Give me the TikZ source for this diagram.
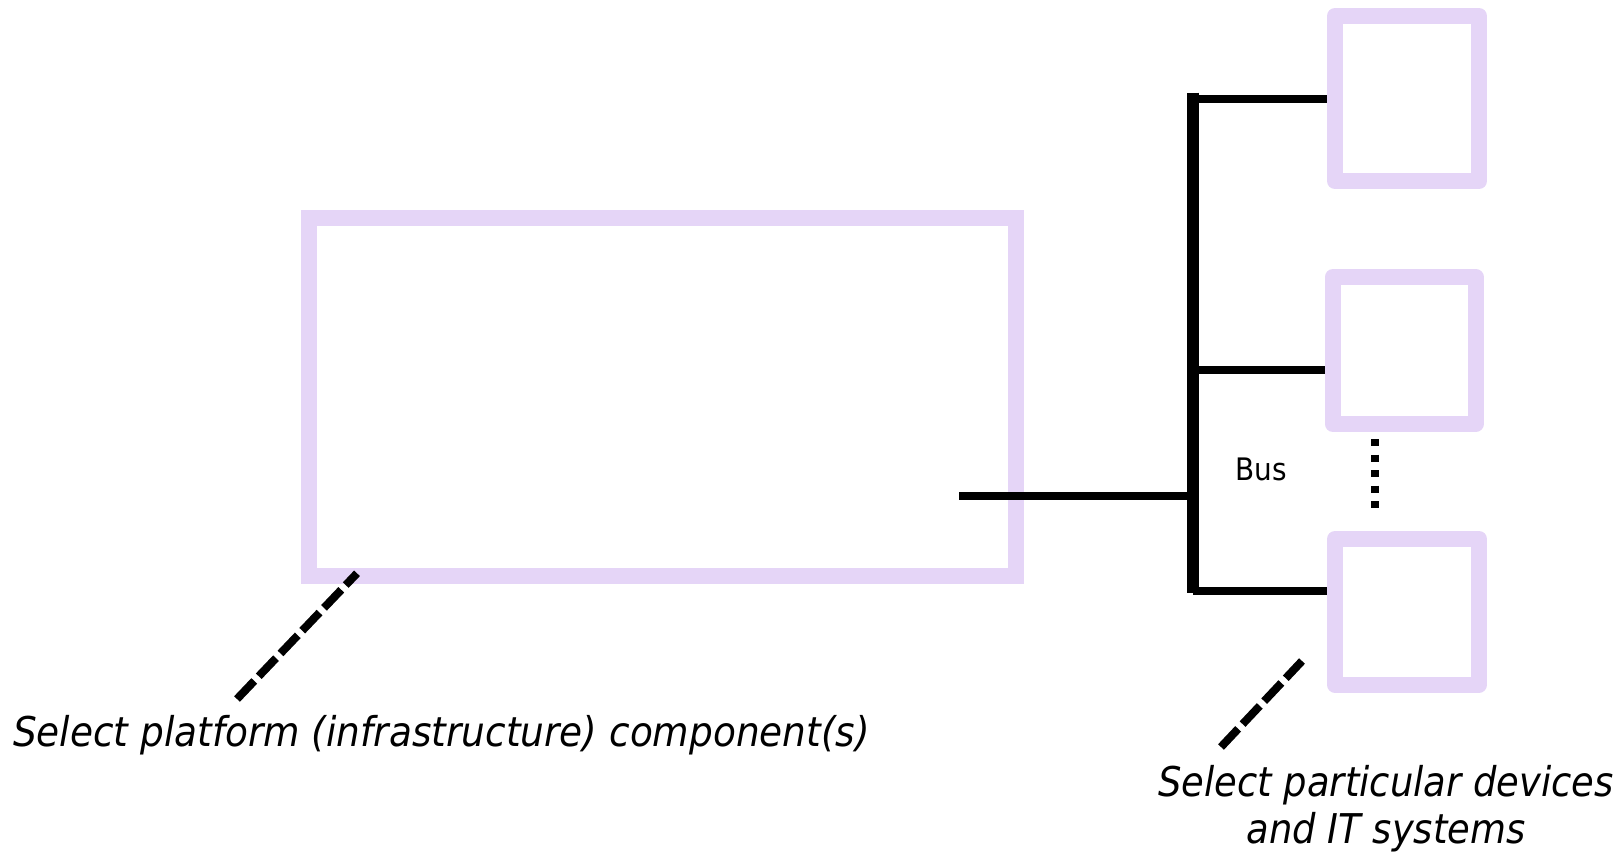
\documentclass[tikz,border=0pt]{standalone}
\usepackage{fontspec}
\usetikzlibrary{calc}
\newfontfamily\labelfont{DejaVu Sans}[FakeStretch=0.9]
\newfontfamily\widelabelfont{DejaVu Sans}[FakeStretch=0.913]
\definecolor{lav}{RGB}{229,213,247}
\tikzset{
  platbox/.style={draw=lav, line width=16pt, inner sep=0pt, outer sep=0pt, rectangle, line join=miter},
  devbox/.style={draw=lav, line width=16pt, inner sep=0pt, outer sep=0pt, rectangle, line join=round},
  busline/.style={draw=black, line width=12pt},
  wire/.style={draw=black, line width=8pt},
  leader/.style={draw=black, line width=8pt, dash pattern=on 25pt off 6.5pt},
  dots/.style={draw=black, line width=8pt, dash pattern=on 7pt off 8.5pt},
  caption/.style={inner sep=0pt, outer sep=0pt, font=\labelfont\itshape\fontsize{41}{47}\selectfont},
  widecaption/.style={inner sep=0pt, outer sep=0pt, font=\widelabelfont\itshape\fontsize{41}{47}\selectfont},
  buslabel/.style={inner sep=0pt, outer sep=0pt, font=\labelfont\fontsize{31}{36}\selectfont}
}
\begin{document}
\begin{tikzpicture}[x=1pt,y=-1pt]
\useasboundingbox (0,0) rectangle (1624,852);

% platform component
\node[platbox, minimum width=707pt, minimum height=358.3pt] (platform) at (662.5,397.15) {};

% devices
\node[devbox, minimum width=144pt, minimum height=165pt] (dev1) at (1407,98.5) {};
\node[devbox, minimum width=143.5pt, minimum height=146.4pt] (dev2) at (1404.25,350.5) {};
\node[devbox, minimum width=144pt, minimum height=145.7pt] (dev3) at (1407,611.85) {};

% bus
\coordinate (bustop) at (1193,92.7);
\coordinate (busbot) at (1193,593);
\coordinate (br1) at (1193,99);
\coordinate (br2) at (1193,369.5);
\coordinate (br3) at (1193,591);
\coordinate (pout) at (959,496);

\draw[wire, shorten >=8pt] (br1) -- (br1 -| dev1.west);
\draw[wire, shorten >=8pt] (br2) -- (br2 -| dev2.west);
\draw[wire, shorten >=8pt] (br3) -- (br3 -| dev3.west);
\draw[wire] (pout) -- (pout -| bustop);
\draw[busline] (bustop) -- (busbot);

\node[buslabel, anchor=base] (bus) at (1261,480) {Bus};

% ellipsis between devices
\coordinate (dotstop) at (1374.7,439);
\coordinate (dotsbot) at (1374.7,508);
\draw[dots] (dotstop) -- (dotsbot);

% leaders
\coordinate (lead1) at (237,699);
\draw[leader] (lead1) -- ($(platform.south west)+(48,-3)$);
\coordinate (lead2a) at (1221,747);
\coordinate (lead2b) at (1302,661);
\draw[leader] (lead2a) -- (lead2b);

% captions
\node[widecaption, anchor=base west] (cap1) at (13,746) {Select platform (infrastructure) component(s)};
\node[caption, anchor=base, align=center] (cap2) at (1386,843) {Select particular devices\\and IT systems};
\end{tikzpicture}
\end{document}
